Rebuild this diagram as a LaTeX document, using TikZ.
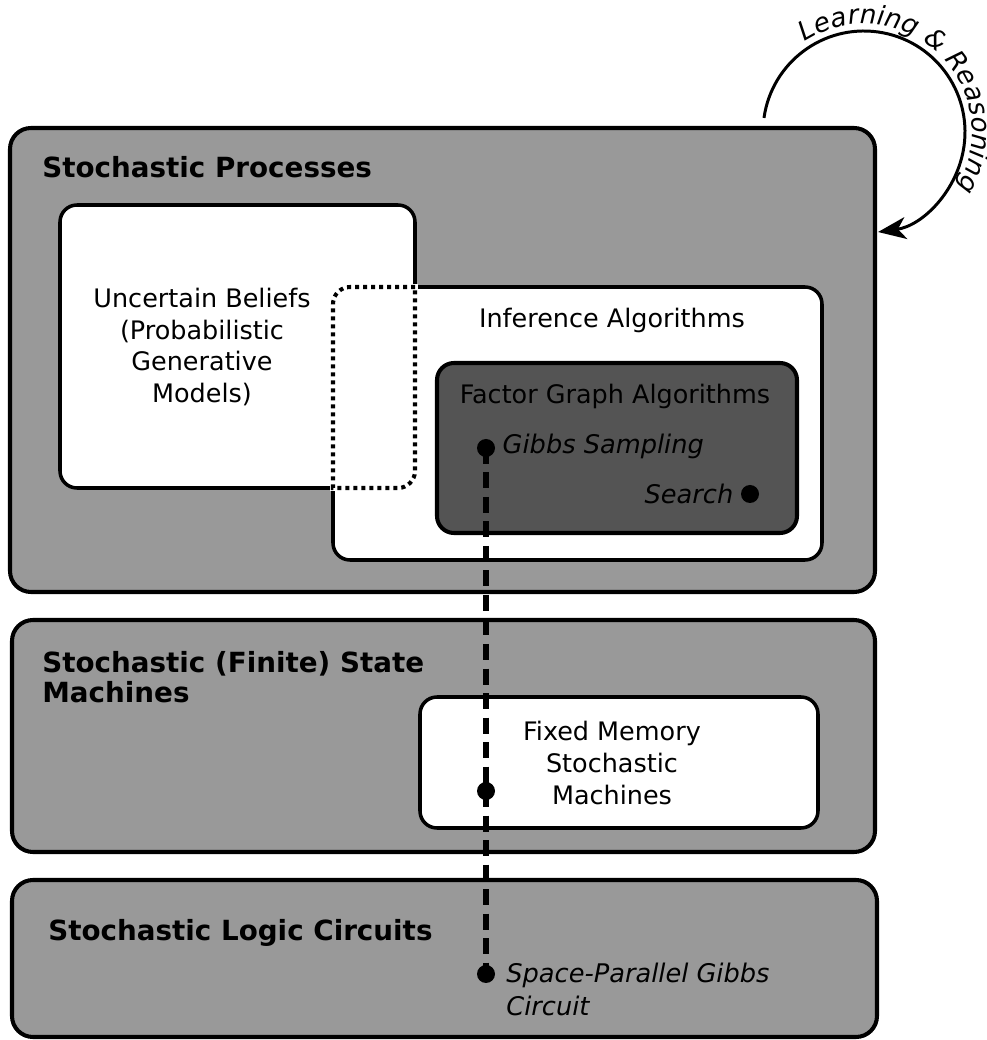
\documentclass[tikz,border=0pt]{standalone}
\usepackage{fontspec}
\setmainfont{DejaVu Sans}
\usetikzlibrary{arrows.meta,decorations.text}
\newcommand\loopfont{\fontsize{15}{17}\selectfont\itshape}

\begin{document}
\begin{tikzpicture}[every node/.style={font=\fontsize{14.5}{18.2}\selectfont, inner sep=0pt}, >={Stealth[length=5.6mm, width=4.4mm, inset=1.6mm]},
	layer/.style={draw, line width=2.3pt, fill=black!40, rounded corners=0.42cm},
	inner/.style={draw, line width=2pt, fill=white, rounded corners=0.34cm},
	title/.style={font=\fontsize{15.8}{17.2}\selectfont\bfseries, align=left},
	algo/.style={font=\fontsize{14.6}{18.6}\selectfont\itshape, align=left},
	dot/.style={circle, fill, minimum size=0.36cm},
	chain/.style={line width=3.4pt, dash pattern=on 0.32cm off 0.17cm}]
	\useasboundingbox (0,0) rectangle (19.74,20.8);
	% the three layers
	\draw[layer] (0.2,8.96) rectangle (17.5,18.24);
	\draw[layer] (0.24,3.76) rectangle (17.5,8.4);
	\draw[layer] (0.24,0.06) rectangle (17.54,3.2);
	\node[title, anchor=base west] (procs) at (0.84,17.24) {Stochastic Processes};
	\node[title, anchor=base west] (machines) at (0.84,7.34) {Stochastic (Finite) State};
	\node[title, anchor=base west] (machines2) at (0.84,6.74) {Machines};
	\node[title, anchor=base west] (circuits) at (0.96,1.98) {Stochastic Logic Circuits};
	% beliefs and inference, overlapping
	\draw[inner] (1.2,11.04) rectangle (8.3,16.7);
	\draw[inner] (6.66,9.6) rectangle (16.44,15.06);
	\fill[white] (6.66,11.04) rectangle (8.3,15.06);
	\draw[white, line width=3pt] (6.66,11.04) rectangle (8.3,15.06);
	\draw[line width=2.3pt, dash pattern=on 0.08cm off 0.08cm] (8.3,15.06) -- (7.0,15.06) arc[start angle=90, end angle=180, radius=0.34] -- (6.66,11.04) -- (7.96,11.04) arc[start angle=270, end angle=360, radius=0.34] -- cycle;
	\node[align=center] (beliefs) at (4.04,13.86) {Uncertain Beliefs\\(Probabilistic\\Generative\\Models)};
	\node (inference) at (12.24,14.4) {Inference Algorithms};
	\draw[inner, fill=black!67, line width=2.3pt] (8.74,10.14) rectangle (15.94,13.54);
	\node (factor) at (12.3,12.88) {Factor Graph Algorithms};
	\draw[inner] (8.4,4.24) rectangle (16.36,6.86);
	\node[align=center] (fixed) at (12.24,5.54) {Fixed Memory\\Stochastic\\Machines};
	% the Gibbs chain down the layers
	\coordinate (gibbsc) at (9.72,11.84);
	\coordinate (spgc) at (9.72,1.32);
	\draw[chain] (gibbsc) -- (spgc);
	\node[dot] (gibbs) at (gibbsc) {};
	\node[dot] (fmdot) at (9.72,4.98) {};
	\node[dot] (spg) at (spgc) {};
	\node[dot] (search) at (15.0,10.92) {};
	\node[algo, anchor=west] (gibbstext) at ([xshift=0.14cm, yshift=0.03cm]gibbs.east) {Gibbs Sampling};
	\node[algo, anchor=east] (searchtext) at ([xshift=-0.14cm]search.west) {Search};
	\node[algo, anchor=north west] (spgtext) at (10.12,1.55) {Space-Parallel Gibbs\\Circuit};
	% learning and reasoning loop
	\coordinate (loop) at (17.28,18.16);
	\draw[line width=1.7pt, ->] ([shift={(172:2.02)}]loop) arc[start angle=172, end angle=-82, radius=2.02];
	\path[decorate, decoration={text along path, text align=center, text={|\loopfont|Learning {\&} Reasoning}}] ([shift={(132:2.16)}]loop) arc[start angle=132, end angle=-40, radius=2.16];
\end{tikzpicture}
\end{document}
